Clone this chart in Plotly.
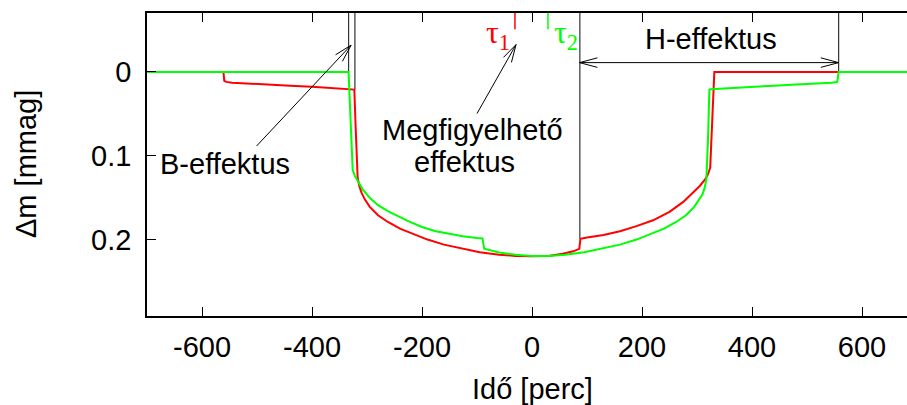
import math
import plotly.graph_objects as go

# ---------------- data ----------------
t_red = [-700, -561, -559.5, -556, -545, -520, -480, -440, -400, -360, -323, -321, -319, -317,
         -314, -310, -304, -295, -280, -262, -240, -217, -190, -160, -125, -95, -60, -30, 0,
         30, 56, 75, 86, 88, 100, 130, 160, 190, 220, 250, 275, 295, 305, 315, 320, 324, 328,
         331.5, 700]
dm_red = [0, 0, 0.0105, 0.0118, 0.0128, 0.0138, 0.015, 0.0163, 0.0175, 0.019, 0.021, 0.06, 0.105,
          0.126, 0.136, 0.144, 0.152, 0.161, 0.171, 0.179, 0.187, 0.193, 0.2, 0.206, 0.211, 0.215,
          0.218, 0.2195, 0.22, 0.2195, 0.217, 0.214, 0.211, 0.199, 0.1975, 0.1945, 0.19, 0.184,
          0.177, 0.167, 0.155, 0.143, 0.136, 0.128, 0.122, 0.114, 0.06, 0, 0]

t_green = [-700, -333.5, -331, -328, -326, -322, -316, -308, -295, -280, -262, -247, -225, -200,
           -175, -150, -126, -100, -90, -87, -80, -60, -30, 0, 30, 60, 95, 125, 160, 190, 217,
           240, 262, 280, 295, 304, 310, 314, 317, 320, 322.5, 325, 360, 400, 440, 480, 520, 545,
           555, 557.5, 700]
dm_green = [0, 0, 0.04, 0.095, 0.117, 0.124, 0.131, 0.14, 0.15, 0.159, 0.166, 0.171, 0.178, 0.185,
            0.19, 0.193, 0.196, 0.198, 0.1985, 0.211, 0.212, 0.2155, 0.218, 0.2195, 0.2195, 0.218,
            0.215, 0.211, 0.206, 0.2, 0.193, 0.187, 0.179, 0.171, 0.161, 0.152, 0.146, 0.138, 0.128,
            0.08, 0.021, 0.0205, 0.019, 0.0175, 0.0163, 0.015, 0.0138, 0.0128, 0.0118, 0.0, 0]

# contact lines: time and the level where they meet the curve
contact_t = [-333.5, -322, 87, 557.5]
contact_dm = [0.0, 0.021, 0.199, 0.0]

tau_t = [-31, 29]
tau_labels = ["τ<sub>1</sub>", "τ<sub>2</sub>"]
tau_colors = ["#ff0000", "#00ff00"]

x_ticks = [-600, -400, -200, 0, 200, 400, 600]
x_ticktext = ["-600", "-400", "-200", "0", "200", "400", "600"]
y_ticks = [0, 0.1, 0.2]
y_ticktext = ["0", "0.1", "0.2"]

# ---------------- layout geometry ----------------
W, H = 907, 405
ML, MR, MT, MB = 147, 0, 13, 89
X_RANGE = [-700, 681.8]
Y_RANGE = [0.2912, -0.0704]  # reversed
PW = W - ML - MR
PH = H - MT - MB
sx = PW / (X_RANGE[1] - X_RANGE[0])
sy = PH / (Y_RANGE[0] - Y_RANGE[1])

FONT = "Liberation Sans, Arial, Helvetica, sans-serif"
FS = 29

fig = go.Figure()
fig.add_trace(go.Scatter(x=t_red, y=dm_red, mode="lines",
                         line=dict(color="#ff0000", width=2), showlegend=False))
fig.add_trace(go.Scatter(x=t_green, y=dm_green, mode="lines",
                         line=dict(color="#00ff00", width=2), showlegend=False))

shapes = []
for ct, cd in zip(contact_t, contact_dm):
    shapes.append(dict(type="line", xref="x", yref="y", x0=ct, x1=ct, y0=Y_RANGE[1], y1=cd,
                       line=dict(color="#333333", width=1.2), layer="below"))
for tt, col in zip(tau_t, tau_colors):
    shapes.append(dict(type="line", xref="x", yref="y", x0=tt, x1=tt, y0=Y_RANGE[1], y1=-0.051,
                       line=dict(color=col, width=1.5)))

annotations = []


def arrow(tail, head, both=False):
    shapes.append(dict(type="line", xref="x", yref="y", x0=tail[0], y0=tail[1],
                       x1=head[0], y1=head[1], line=dict(color="black", width=1)))
    ends = [(head, tail)] + ([(tail, head)] if both else [])
    for hd, tl in ends:
        dxp = (tl[0] - hd[0]) * sx
        dyp = (tl[1] - hd[1]) * sy
        n = math.hypot(dxp, dyp)
        ux, uy = dxp / n, dyp / n
        L = 20
        for sg in (1, -1):
            a = sg * math.radians(15)
            wx = L * (ux * math.cos(a) - uy * math.sin(a))
            wy = L * (ux * math.sin(a) + uy * math.cos(a))
            annotations.append(dict(x=hd[0], y=hd[1], xref="x", yref="y", ax=wx, ay=wy,
                                    axref="pixel", ayref="pixel", text="", showarrow=True,
                                    arrowhead=0, arrowwidth=1, arrowcolor="black"))


arrow((-500.7, 0.0883), (-329, -0.032))
arrow((-100, 0.0496), (-29, -0.0327))
arrow((86.5, -0.0112), (557.5, -0.0112), both=True)


def label(txt, x, y, **kw):
    d = dict(x=x, y=y, xref="x", yref="y", text=txt, showarrow=False,
             font=dict(family=FONT, size=FS, color="black"), xanchor="center", yanchor="middle")
    d.update(kw)
    annotations.append(d)


label("B-effektus", -558, 0.110)
label("Megfigyelhető", -108, 0.0696)
label("effektus", -123, 0.1074)
label("H-effektus", 325.5, -0.0399)

TAU_FONT = "Liberation Serif, Times New Roman, serif"
annotations.append(dict(x=-36, y=-0.045, xref="x", yref="y", text=tau_labels[0], showarrow=False,
                        font=dict(family=TAU_FONT, size=32, color=tau_colors[0]),
                        xanchor="right", yanchor="middle"))
annotations.append(dict(x=37, y=-0.045, xref="x", yref="y", text=tau_labels[1], showarrow=False,
                        font=dict(family=TAU_FONT, size=32, color=tau_colors[1]),
                        xanchor="left", yanchor="middle"))

# axis titles
annotations.append(dict(x=(532 - ML) / PW, y=(MT + PH - 389) / PH, xref="paper", yref="paper",
                        text="Idő [perc]", showarrow=False, xanchor="center", yanchor="middle",
                        font=dict(family=FONT, size=FS, color="black")))
annotations.append(dict(x=(26 - ML) / PW, y=(MT + PH - 164) / PH, xref="paper", yref="paper",
                        text="Δm [mmag]", showarrow=False, xanchor="center", yanchor="middle",
                        textangle=-90, font=dict(family=FONT, size=FS, color="black")))

fig.update_layout(
    width=W, height=H,
    margin=dict(l=ML, r=MR, t=MT, b=MB, pad=0),
    paper_bgcolor="white", plot_bgcolor="white",
    shapes=shapes, annotations=annotations,
    font=dict(family=FONT, size=FS, color="black"),
    xaxis=dict(range=X_RANGE, tickvals=x_ticks, ticktext=x_ticktext, ticks="inside", ticklen=9,
               tickwidth=1, tickcolor="black", showline=True, linewidth=1.5, linecolor="black",
               mirror="ticks", showgrid=False, zeroline=False, ticklabelstandoff=4,
               tickfont=dict(family=FONT, size=FS)),
    yaxis=dict(range=Y_RANGE, tickvals=y_ticks, ticktext=y_ticktext, ticks="inside",
               ticklen=9, tickwidth=1, tickcolor="black", showline=True, linewidth=1.5,
               linecolor="black", mirror=False, showgrid=False, zeroline=False,
               ticklabelstandoff=8, tickfont=dict(family=FONT, size=FS)),
)

fig.write_html("out.html")
